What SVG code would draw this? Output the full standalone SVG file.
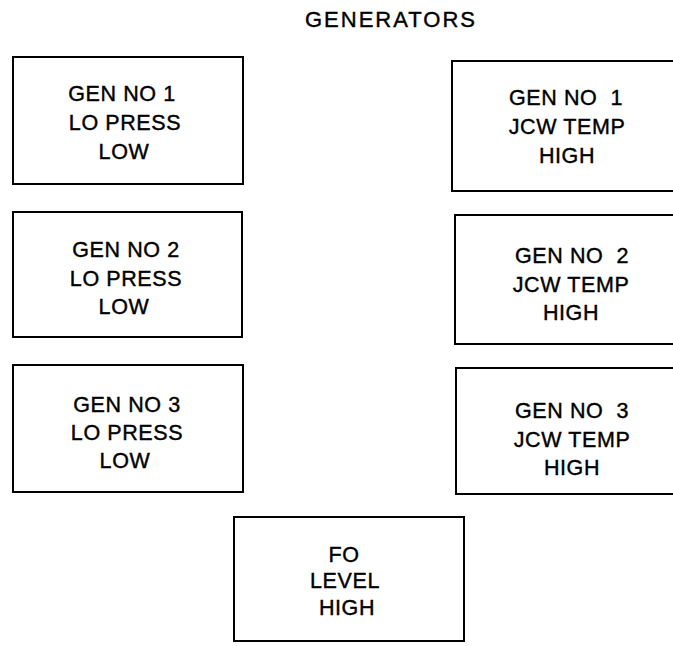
<svg xmlns="http://www.w3.org/2000/svg" width="673" height="646" viewBox="0 0 673 646">
<style>
.box{fill:#fff;stroke:#000;stroke-width:2}
.t{font-family:"Liberation Sans",Arial,sans-serif;font-size:21.5px;letter-spacing:0.6px;fill:#000;stroke:#000;stroke-width:0.4;text-anchor:middle;white-space:pre}
.title{font-family:"Liberation Sans",Arial,sans-serif;font-size:22px;letter-spacing:2px;fill:#000;stroke:#000;stroke-width:0.4;text-anchor:middle}
</style>
<rect width="673" height="646" fill="#fff"/>
<text class="title" x="391" y="27">GENERATORS</text>
<g id="gen1-lo">
<rect class="box" x="13" y="57" width="230" height="127"/>
<text class="t" x="122" y="101">GEN NO 1</text>
<text class="t" x="125" y="130">LO PRESS</text>
<text class="t" x="124" y="159">LOW</text>
</g>
<g id="gen2-lo">
<rect class="box" x="13" y="212" width="229" height="125"/>
<text class="t" x="126" y="257">GEN NO 2</text>
<text class="t" x="126" y="286">LO PRESS</text>
<text class="t" x="124" y="314">LOW</text>
</g>
<g id="gen3-lo">
<rect class="box" x="13" y="365" width="230" height="127"/>
<text class="t" x="127" y="412">GEN NO 3</text>
<text class="t" x="127" y="440">LO PRESS</text>
<text class="t" x="125" y="468">LOW</text>
</g>
<g id="gen1-jcw">
<rect class="box" x="452" y="61" width="240" height="130"/>
<text class="t" x="566" y="105">GEN NO  1</text>
<text class="t" x="567" y="134">JCW TEMP</text>
<text class="t" x="567" y="163">HIGH</text>
</g>
<g id="gen2-jcw">
<rect class="box" x="455" y="215" width="240" height="129"/>
<text class="t" x="572" y="263">GEN NO  2</text>
<text class="t" x="571" y="292">JCW TEMP</text>
<text class="t" x="571" y="320">HIGH</text>
</g>
<g id="gen3-jcw">
<rect class="box" x="456" y="368" width="240" height="126"/>
<text class="t" x="572" y="418">GEN NO  3</text>
<text class="t" x="572" y="447">JCW TEMP</text>
<text class="t" x="572" y="475">HIGH</text>
</g>
<g id="fo-level">
<rect class="box" x="234" y="517" width="230" height="124"/>
<text class="t" x="344" y="562">FO</text>
<text class="t" x="345" y="588">LEVEL</text>
<text class="t" x="347" y="615">HIGH</text>
</g>
<g id="connectors"></g>
</svg>
